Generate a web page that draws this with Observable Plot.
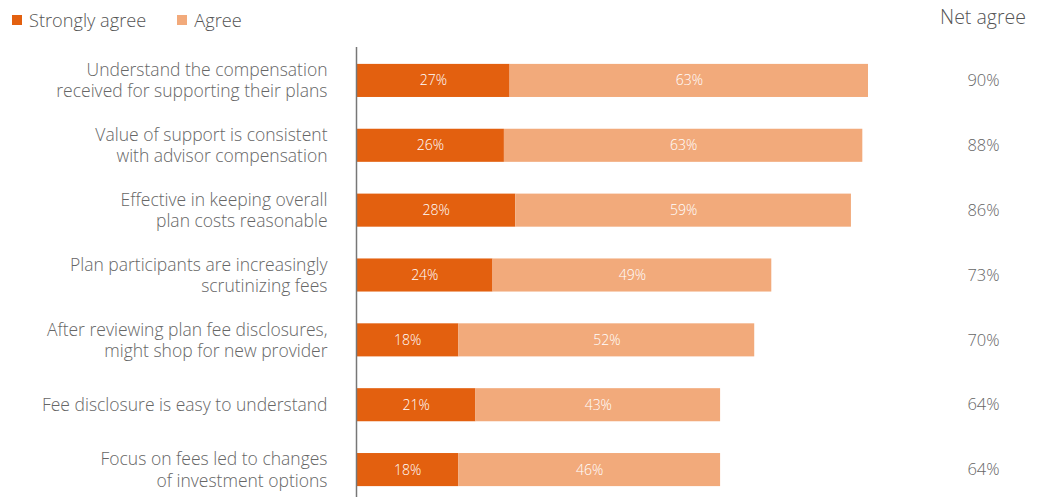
<!DOCTYPE html>
<html>
<head>
<meta charset="utf-8">
<script src="https://cdn.jsdelivr.net/npm/d3@7"></script>
<script src="https://cdn.jsdelivr.net/npm/@observablehq/plot@0.6"></script>
<style>
  body { margin: 0; background: #fff; font-family: "Open Sans", Lato, sans-serif; }
  #wrap { position: relative; width: 1039px; height: 497px; }
  #legend { position: absolute; left: 12px; top: 8px; display: flex; gap: 31px; font-size: 18.2px; font-weight: 300; color: #555; }
  #legend span.item { display: flex; align-items: center; }
  #legend i { display: inline-block; width: 10px; height: 10px; margin-right: 7px; }
  #net { position: absolute; left: 923px; width: 120px; text-align: center; top: 3px; font-size: 19.5px; font-weight: 300; color: #555; }
  #chart { position: absolute; left: 0; top: 0; }
</style>
</head>
<body>
<div id="wrap">
  <div id="chart"></div>
  <div id="legend"></div>
  <div id="net">Net agree</div>
</div>
<script>
const categories = [
  "Understand the compensation\nreceived for supporting their plans",
  "Value of support is consistent\nwith advisor compensation",
  "Effective in keeping overall\nplan costs reasonable",
  "Plan participants are increasingly\nscrutinizing fees",
  "After reviewing plan fee disclosures,\nmight shop for new provider",
  "Fee disclosure is easy to understand",
  "Focus on fees led to changes\nof investment options"
];
const stronglyAgree = [27, 26, 28, 24, 18, 21, 18];
const agree = [63, 63, 59, 49, 52, 43, 46];
const netAgree = [90, 88, 86, 73, 70, 64, 64];
const seriesNames = ["Strongly agree", "Agree"];
const seriesColors = ["#E3600F", "#F2AA7B"];

const rows = [];
categories.forEach((c, i) => {
  rows.push({cat: c, series: seriesNames[0], value: stronglyAgree[i]});
  rows.push({cat: c, series: seriesNames[1], value: agree[i]});
});
const netRows = categories.map((c, i) => ({cat: c, net: netAgree[i]}));

const legend = document.getElementById("legend");
seriesNames.forEach((s, i) => {
  const el = document.createElement("span");
  el.className = "item";
  el.innerHTML = `<i style="background:${seriesColors[i]}"></i>${s}`;
  legend.appendChild(el);
});

const chart = Plot.plot({
  width: 1039,
  height: 497,
  marginLeft: 356,
  marginRight: 0,
  marginTop: 47,
  marginBottom: 0,
  style: {fontFamily: "'Open Sans', Lato, sans-serif", background: "#fff"},
  x: {domain: [0, 90], range: [356, 868], axis: null},
  y: {domain: categories, range: [48, 502], paddingInner: 0.49, paddingOuter: 0.245, round: false, axis: null},
  color: {domain: seriesNames, range: seriesColors},
  marks: [
    Plot.barX(rows, Plot.stackX({x: "value", y: "cat", fill: "series", order: seriesNames})),
    Plot.text(rows, Plot.stackX({x: "value", y: "cat", z: "series", order: seriesNames, text: d => d.value + "%", fill: "white", fontSize: 14, fontWeight: 300})),
    Plot.axisY({tickSize: 0, tickPadding: 29, dy: -1, fontSize: 17.5, fontWeight: 300, lineHeight: 1.22, fill: "#666", label: null}),
    Plot.ruleX([0], {stroke: "#777", strokeWidth: 1.5}),
    Plot.text(netRows, {y: "cat", text: d => d.net + "%", frameAnchor: "right", dx: -56, textAnchor: "middle", fontSize: 16.5, fontWeight: 300, fill: "#666"})
  ]
});
document.getElementById("chart").appendChild(chart);
</script>
</body>
</html>
